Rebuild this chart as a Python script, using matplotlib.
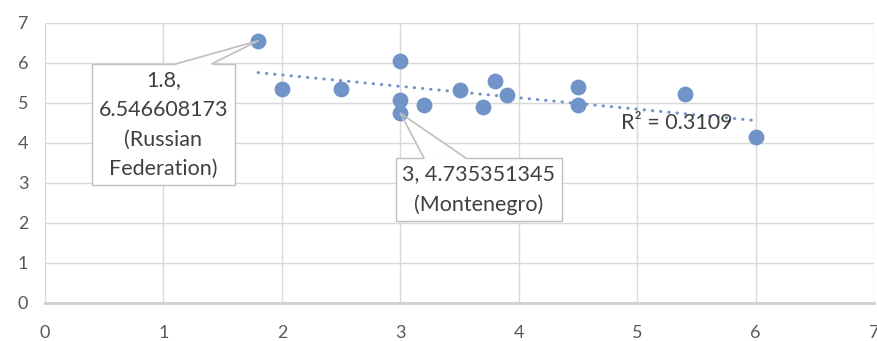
import numpy as np
import matplotlib.pyplot as plt
from matplotlib.patches import Polygon

plt.rcParams['font.family'] = ['Lato', 'DejaVu Sans']

x = [1.8, 2.0, 2.5, 3.0, 3.0, 3.0, 3.2, 3.5, 3.7, 3.8, 3.9, 4.5, 4.5, 5.4, 6.0]
y = [6.546608173, 5.34, 5.34, 6.05, 5.07, 4.735351345, 4.93, 5.32, 4.88,
     5.55, 5.18, 5.38, 4.93, 5.22, 4.13]
r2_text = "R² = 0.3109"

fig = plt.figure(figsize=(8.77, 3.41), dpi=100)
ax = fig.add_axes([0.0513, 0.1126, 0.9455, 0.821])

ax.set_xlim(0, 7)
ax.set_ylim(0, 7)
ax.set_xticks(range(0, 8))
ax.set_yticks(range(0, 8))
ax.grid(True, color='#d9d9d9', lw=1)
ax.set_axisbelow(True)
for side in ['left', 'right', 'top']:
    ax.spines[side].set_visible(False)
ax.spines['bottom'].set_color('#d0d0d0')
ax.spines['bottom'].set_linewidth(2)
ax.tick_params(length=0, labelsize=13, labelcolor='#595959')
ax.tick_params(axis='x', pad=16)
ax.tick_params(axis='y', pad=12)

ax.scatter(x, y, s=130, color='#7094c8', zorder=3, linewidths=0)

# linear trendline
k, b = np.polyfit(x, y, 1)
tx = np.array([min(x), max(x)])
ax.plot(tx, k * tx + b, color='#7094c8', lw=2.2,
        linestyle=(0, (0.1, 2.6)), dash_capstyle='round', zorder=4)
ax.text(4.86, 4.5, r2_text, fontsize=15.5, color='#404040', va='center', zorder=5)

box = dict(boxstyle='square,pad=0.3', fc='white', ec='#bfbfbf', lw=1)
lab1 = ax.annotate("1.8,\n6.546608173\n(Russian\nFederation)", xy=(x[0], y[0]),
                   xytext=(1.0, 4.45), ha='center', va='center', fontsize=15.5,
                   color='#404040', linespacing=1.6, bbox=box, zorder=6)
lab2 = ax.annotate("3, 4.735351345\n(Montenegro)", xy=(x[5], y[5]),
                   xytext=(3.66, 2.83), ha='center', va='center', fontsize=15.5,
                   color='#404040', linespacing=1.6, bbox=box, zorder=6)


def callout(lab, xy, f0, f1):
    # wedge leader from the top edge of the label box to the point
    fig.canvas.draw()
    bb = lab.get_bbox_patch().get_window_extent()
    inv = ax.transData.inverted()
    tip = ax.transData.transform(xy)
    bx0 = bb.x0 + f0 * bb.width
    bx1 = bb.x0 + f1 * bb.width
    pts = inv.transform([[bx0, bb.y1], tip, [bx1, bb.y1]])
    ax.add_patch(Polygon(pts, closed=True, fc='white', ec='none', zorder=2.5))
    gap = inv.transform([[bx0 + 1, bb.y1], [bx1 - 1, bb.y1]])
    ax.plot(gap[:, 0], gap[:, 1], color='white', lw=2, zorder=6.5)
    ax.plot(pts[:, 0], pts[:, 1], color='#bfbfbf', lw=1.2, zorder=7)


callout(lab1, (x[0], y[0]), 0.59, 0.84)
callout(lab2, (x[5], y[5]), 0.17, 0.42)

fig.savefig('out.png', dpi=100)
